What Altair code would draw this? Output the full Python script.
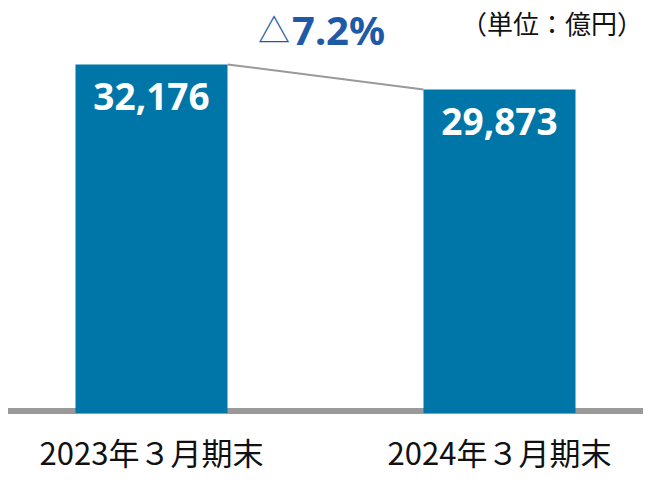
import altair as alt
import pandas as pd

categories = ["2023年３月期末", "2024年３月期末"]
values = [32176, 29873]
value_labels = ["32,176", "29,873"]
change_label = "7.2%"
unit_label = "（単位：億円）"

df = pd.DataFrame({"cat": categories, "val": values, "lab": value_labels,
                   "idx": list(range(len(categories)))})
note = pd.DataFrame({"chg": [change_label], "unit": [unit_label], "tri": ["△"]})

W, H = 635, 468
HALF = 0.2184
xs = alt.Scale(domain=[-0.41236, 1.41236], range=[0, W], nice=False, zero=False)
ys = alt.Scale(domain=[0, 37389], range=[405, 0], nice=False, zero=True)

base = alt.Chart(df)
nbase = alt.Chart(note)

baseline = nbase.mark_rule(color="#999999", strokeWidth=6, yOffset=-2).encode(
    x=alt.value(0), x2=alt.value(W), y=alt.value(405))

bars = base.transform_calculate(x0=f"datum.idx - {HALF}", x1=f"datum.idx + {HALF}").mark_bar(
    color="#0076A8").encode(
    x=alt.X("x0:Q", scale=xs, axis=None), x2="x1:Q",
    y=alt.Y("val:Q", scale=ys, axis=None), y2=alt.datum(0))

vlabels = base.mark_text(color="white", font="Noto Sans", fontWeight="bold",
                         fontSize=37, baseline="middle", dy=35).encode(
    x=alt.X("idx:Q", scale=xs, axis=None), y=alt.Y("val:Q", scale=ys, axis=None), text="lab:N")

clabels = base.mark_text(color="#111111", font="Noto Sans CJK JP", fontSize=31,
                         baseline="middle", dy=43).encode(
    x=alt.X("idx:Q", scale=xs, axis=None), y=alt.value(405), text="cat:N")

connector = base.transform_calculate(
    xe=f"datum.idx == 0 ? datum.idx + {HALF} : datum.idx - {HALF}").mark_line(
    color="#999999", strokeWidth=2).encode(
    x=alt.X("xe:Q", scale=xs, axis=None), y=alt.Y("val:Q", scale=ys, axis=None))

tri = nbase.mark_text(color="#1E5AA8", font="Noto Sans CJK JP",
                      fontSize=32, align="left", baseline="middle").encode(
    x=alt.value(250), y=alt.value(24), text="tri:N")
chg = nbase.mark_text(color="#1E5AA8", font="Noto Sans",
                      fontWeight="bold", fontSize=40, align="left", baseline="middle").encode(
    x=alt.value(284), y=alt.value(25), text="chg:N")
unit = nbase.mark_text(color="#111111", font="Noto Sans CJK JP",
                       fontSize=26, align="right", baseline="middle").encode(
    x=alt.value(W), y=alt.value(18), text="unit:N")

chart = alt.layer(baseline, connector, bars, vlabels, clabels, tri, chg, unit).properties(
    width=W, height=H, padding=0, autosize=alt.AutoSizeParams(type="none")
).configure_view(stroke=None)

chart.save("out.html", embed_options={"renderer": "svg", "actions": False})
